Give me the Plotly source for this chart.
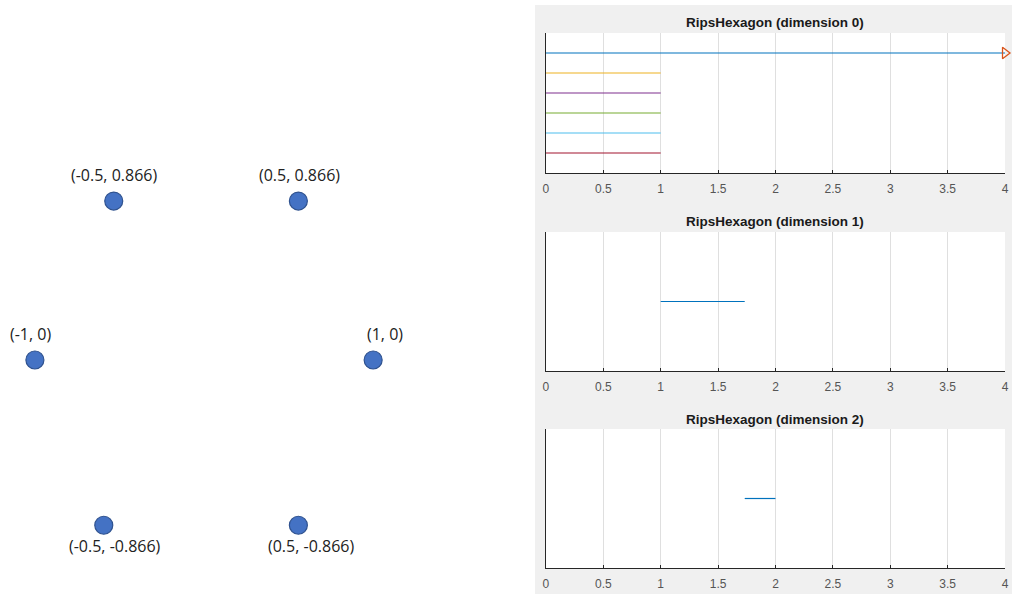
import plotly.graph_objects as go

REF_W, REF_H = 1012, 594
W, H = 1017, 594

# ---- data ----
point_labels = ["(-0.5, 0.866)", "(0.5, 0.866)", "(-1, 0)", "(1, 0)", "(-0.5, -0.866)", "(0.5, -0.866)"]
# positions as drawn in the picture
point_x = [-0.5, 0.5, -0.927, 0.905, -0.554, 0.5]
point_y = [0.866, 0.866, 0.0, 0.0, -0.90, -0.90]
label_pos = ["above", "above", "above", "above", "below", "below"]
label_dx = [0, 1, -4, 12, 11, 13]

dim0_birth = [0, 0, 0, 0, 0, 0]
dim0_death = [None, 1, 1, 1, 1, 1]   # None = infinite
dim0_row = [6, 5, 4, 3, 2, 1]
dim0_colors = ["#0072BD", "#EDB120", "#7E2F8E", "#77AC30", "#4DBEEE", "#A2142F"]

dim1_birth = [1.0]
dim1_death = [1.732]
dim1_row = [1]

dim2_birth = [1.732]
dim2_death = [2.0]
dim2_row = [1]

titles = ["RipsHexagon (dimension 0)", "RipsHexagon (dimension 1)", "RipsHexagon (dimension 2)"]
x_max = 4

fig = go.Figure()

# ---- left: hexagon points ----
fig.add_trace(go.Scatter(
    x=point_x, y=point_y, mode="markers", xaxis="x4", yaxis="y4",
    marker=dict(size=18, color="#4472C4", line=dict(color="#2F528F", width=1.2)),
    showlegend=False, hoverinfo="skip"))
for x, y, t, p, dx in zip(point_x, point_y, point_labels, label_pos, label_dx):
    fig.add_annotation(x=x, y=y, xref="x4", yref="y4", text=t, showarrow=False,
                       xshift=dx, yshift=26 if p == "above" else -21,
                       font=dict(family="Open Sans", size=16, color="#222222"))

# ---- right: barcodes ----
px0, px1 = 544, 1004
panels = [(33, 173), (232, 371), (429, 568)]
yranges = [[0, 7], [0, 2], [0, 2]]

def add_bars(births, deaths, rows, colors, idx):
    ax = "" if idx == 1 else str(idx)
    for b, d, r, c in zip(births, deaths, rows, colors):
        end = x_max if d is None else d
        fig.add_trace(go.Scatter(x=[b, end], y=[r, r], mode="lines", xaxis="x" + ax, yaxis="y" + ax,
                                 line=dict(color=c, width=1.2), showlegend=False, hoverinfo="skip"))
        if d is None:
            fig.add_trace(go.Scatter(x=[end], y=[r], mode="markers", xaxis="x" + ax, yaxis="y" + ax,
                                     marker=dict(symbol="triangle-right-open", size=10,
                                                 color="#D95319", line=dict(width=1.3)),
                                     showlegend=False, hoverinfo="skip", cliponaxis=False))

add_bars(dim0_birth, dim0_death, dim0_row, dim0_colors, 1)
add_bars(dim1_birth, dim1_death, dim1_row, ["#0072BD"], 2)
add_bars(dim2_birth, dim2_death, dim2_row, ["#0072BD"], 3)

shapes = [dict(type="rect", xref="paper", yref="paper", x0=533 / REF_W, x1=1, y0=0, y1=1 - 5 / REF_H,
               fillcolor="#F0F0F0", line=dict(width=0), layer="below")]

layout = dict(
    width=W, height=H, margin=dict(l=0, r=0, t=0, b=0),
    paper_bgcolor="white", plot_bgcolor="white",
    xaxis4=dict(domain=[0, 420 / REF_W], range=[-1.0998, 1.1705], visible=False, anchor="y4"),
    yaxis4=dict(domain=[0, 1], range=[-1.2745, 1.961], visible=False, anchor="x4"),
)

for i, ((top, bot), yr) in enumerate(zip(panels, yranges), start=1):
    ax = "" if i == 1 else str(i)
    layout["xaxis" + ax] = dict(
        domain=[px0 / REF_W, px1 / REF_W], range=[0, x_max], dtick=0.5, anchor="y" + ax,
        showgrid=True, gridcolor="#DFDFDF", gridwidth=1, zeroline=False,
        showline=True, linecolor="#262626", linewidth=1,
        ticks="inside", ticklen=3, tickcolor="#262626", ticklabelstandoff=5,
        tickfont=dict(family="Liberation Sans", size=12, color="#555555"), fixedrange=True)
    layout["yaxis" + ax] = dict(
        domain=[1 - bot / REF_H, 1 - top / REF_H], range=yr, anchor="x" + ax,
        showgrid=False, zeroline=False, showticklabels=False, ticks="",
        showline=True, linecolor="#262626", linewidth=1, fixedrange=True)
    shapes.append(dict(type="rect", xref="x" + ax + " domain", yref="y" + ax + " domain",
                       x0=0, x1=1, y0=0, y1=1, fillcolor="white", line=dict(width=0), layer="below"))
    fig.add_annotation(x=(px0 + px1) / 2 / REF_W, y=1 - (top - 10) / REF_H, xref="paper", yref="paper",
                       xanchor="center", yanchor="middle",
                       text="<b>" + titles[i - 1] + "</b>", showarrow=False,
                       font=dict(family="Liberation Sans", size=13.5, color="#1A1A1A"))

layout["shapes"] = shapes
fig.update_layout(**layout)
fig.write_html("out.html")
